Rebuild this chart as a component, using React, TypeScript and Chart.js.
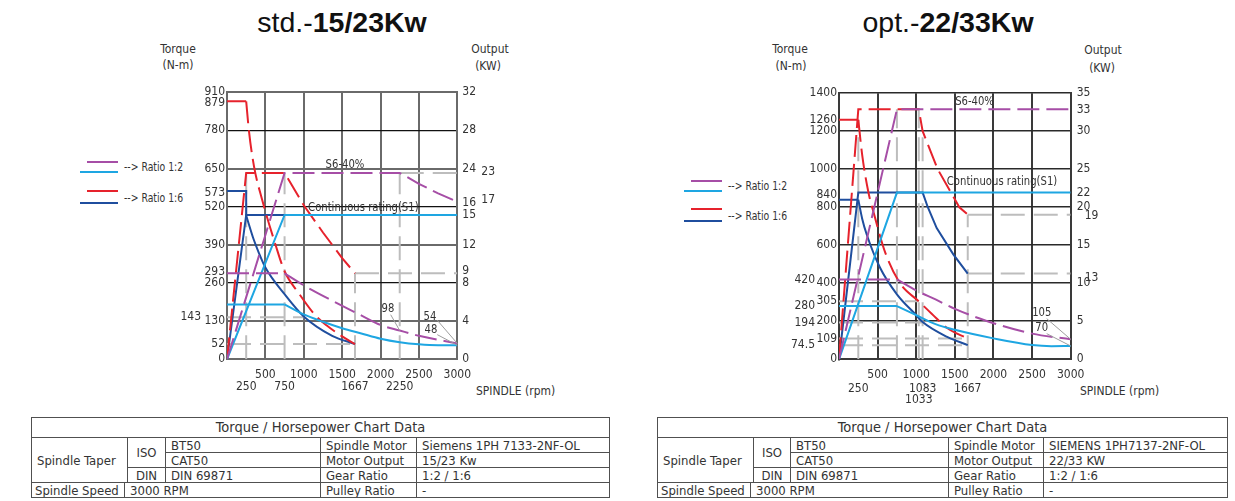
import React, { useEffect, useRef } from "react";
import { Chart, registerables } from "chart.js";

Chart.register(...registerables);

type Pt = [number, number];

const NARROW = "'Liberation Sans Narrow', 'DejaVu Sans Condensed', 'Liberation Sans', Arial, sans-serif";
const SANS = "'Liberation Sans', Arial, Helvetica, sans-serif";

const RED = "#e6222c";
const PURPLE = "#a64ea6";
const LIGHT_BLUE = "#1ea6e2";
const DARK_BLUE = "#1f4e9e";
const GUIDE = "#bdbdbd";
const TEXT = "#333333";

// ---------------- std.-15/23Kw ----------------
const STD_RPM_ROW1 = [500, 1000, 1500, 2000, 2500, 3000];
const STD_RPM_ROW2 = [250, 750, 1667, 2250];
const STD_TORQUE_TICKS = [910, 879, 780, 650, 573, 520, 390, 293, 260, 130, 52, 0];
// where each torque label sits (a few are nudged apart, as in the drawing)
const STD_TORQUE_LABEL_AT = [910, 872, 780, 650, 566, 520, 390, 297, 260, 130, 52, 0];
const STD_TORQUE_TICKS_OUTER = [143];
const STD_GRID_MAJOR = [910, 650, 390, 130];
const STD_GRID_MINOR = [780, 520, 260];
const STD_OUTPUT_AT = [910, 780, 650, 533, 492, 390, 301, 259, 130, 0];
const STD_OUTPUT_LABELS = ["32", "28", "24", "16", "15", "12", "9", "8", "4", "0"];
const STD_OUTPUT_OUTER_AT = [640, 542];
const STD_OUTPUT_OUTER_LABELS = ["23", "17"];

const STD_TORQUE_1_6_S6: Pt[] = [[0, 879], [250, 879], [285, 780], [350, 660], [456, 545], [630, 392], [750, 300], [935, 225], [1150, 150], [1300, 115], [1500, 78], [1667, 52]];
const STD_TORQUE_1_2_S6: Pt[] = [[0, 293], [750, 293], [1000, 252], [1370, 200], [1760, 148], [2000, 117], [2250, 98], [2500, 80], [3000, 54]];
const STD_TORQUE_1_6_S1: Pt[] = [[0, 573], [250, 573], [250, 490], [348, 408], [407, 368], [500, 313], [750, 222], [1000, 146], [1370, 80], [1667, 52]];
const STD_TORQUE_1_2_S1: Pt[] = [[0, 187], [750, 187], [1000, 153], [1250, 128], [1500, 106], [1750, 88], [2000, 70], [2250, 58], [2500, 51], [2750, 48], [3000, 48]];
const STD_POWER_1_6_S6: Pt[] = [[0, 0], [250, 635], [750, 635], [1000, 525], [1250, 432], [1500, 345], [1667, 293]];
const STD_POWER_1_2_S6: Pt[] = [[0, 0], [750, 635], [2250, 635], [2500, 598], [2750, 565], [3000, 537]];
const STD_POWER_1_6_S1: Pt[] = [[0, 0], [250, 492], [750, 492]];
const STD_POWER_1_2_S1: Pt[] = [[0, 0], [750, 492], [3000, 492]];
const STD_GUIDES: Pt[][] = [
  [[250, 0], [250, 635]], [[750, 0], [750, 635]], [[2250, 0], [2250, 635]], [[2250, 635], [3000, 635]],
  [[1667, 0], [1667, 293]], [[1667, 293], [3000, 293]], [[0, 143], [1000, 143]], [[0, 52], [1667, 52]],
];

// ---------------- opt.-22/33Kw ----------------
const OPT_RPM_ROW1 = [500, 1000, 1500, 2000, 2500, 3000];
const OPT_RPM_ROW2 = [250, 1083, 1667];
const OPT_RPM_ROW3 = [1033];
const OPT_TORQUE_TICKS = [1400, 1260, 1200, 1000, 840, 800, 600, 400, 305, 200, 109, 0];
const OPT_TORQUE_LABEL_AT = [1400, 1260, 1200, 1000, 863, 800, 600, 400, 305, 200, 109, 0];
const OPT_TORQUE_TICKS_OUTER = [420, 280, 194, 74.5];
const OPT_GRID_MAJOR = [1400, 1200, 1000, 800, 600, 400, 200];
const OPT_GRID_MINOR: number[] = [];
const OPT_OUTPUT_AT = [1400, 1311, 1200, 1000, 873, 800, 600, 400, 200, 0];
const OPT_OUTPUT_LABELS = ["35", "33", "30", "25", "22", "20", "15", "10", "5", "0"];
const OPT_OUTPUT_OUTER_AT = [756, 430];
const OPT_OUTPUT_OUTER_LABELS = ["19", "13"];

const OPT_TORQUE_1_6_S6: Pt[] = [[0, 1260], [250, 1260], [300, 1075], [380, 880], [450, 770], [600, 560], [790, 400], [1033, 305], [1200, 240], [1400, 165], [1667, 109]];
const OPT_TORQUE_1_2_S6: Pt[] = [[0, 420], [750, 420], [1000, 362], [1250, 315], [1500, 265], [1750, 225], [2000, 190], [2500, 135], [3000, 105]];
const OPT_TORQUE_1_6_S1: Pt[] = [[0, 840], [250, 840], [300, 740], [360, 655], [530, 483], [750, 342], [1000, 232], [1083, 196], [1400, 118], [1667, 74.5]];
const OPT_TORQUE_1_2_S1: Pt[] = [[0, 280], [750, 280], [1000, 232], [1250, 185], [1500, 155], [2000, 110], [2500, 75], [2750, 69], [3000, 70]];
const OPT_POWER_1_6_S6: Pt[] = [[0, 0], [250, 1315], [1033, 1315], [1083, 1200], [1278, 1000], [1558, 800], [1667, 761]];
const OPT_POWER_1_2_S6: Pt[] = [[0, 0], [750, 1315], [3000, 1315]];
const OPT_POWER_1_6_S1: Pt[] = [[0, 0], [250, 877], [1083, 877], [1150, 800], [1265, 690], [1480, 552], [1667, 451]];
const OPT_POWER_1_2_S1: Pt[] = [[0, 0], [750, 877], [3000, 877]];
const OPT_GUIDES: Pt[][] = [
  [[250, 0], [250, 1260]], [[750, 0], [750, 1315]], [[1033, 0], [1033, 1315]], [[1083, 0], [1083, 1200]],
  [[1667, 0], [1667, 761]], [[1667, 761], [3000, 761]], [[1667, 451], [3000, 451]],
  [[0, 305], [1033, 305]], [[0, 194], [1083, 194]], [[0, 109], [1667, 109]], [[0, 74.5], [1667, 74.5]],
];

// ---------------- table ----------------
const STD_TABLE = { motor: "Siemens 1PH 7133-2NF-OL", output: "15/23 Kw" };
const OPT_TABLE = { motor: "SIEMENS 1PH7137-2NF-OL", output: "22/33 KW" };

const S6_DASH = [22, 7];
const GUIDE_DASH = [24, 9];
const TICK_FONT = { family: NARROW, size: 12 };

function annotationPlugin(spec: any) {
  return {
    id: "annot",
    afterDatasetsDraw(chart: any) {
      const { ctx } = chart;
      const xs = chart.scales.x;
      const ys = chart.scales.y;
      ctx.save();
      ctx.strokeStyle = "#9d9d9d";
      ctx.lineWidth = 1;
      spec.leaders.forEach((l: any) => {
        ctx.beginPath();
        ctx.moveTo(xs.getPixelForValue(l.from[0]), ys.getPixelForValue(l.from[1]));
        ctx.lineTo(xs.getPixelForValue(l.to[0]), ys.getPixelForValue(l.to[1]));
        ctx.stroke();
      });
      ctx.fillStyle = TEXT;
      ctx.font = `13px ${NARROW}`;
      ctx.textAlign = "center";
      ctx.textBaseline = "middle";
      spec.texts.forEach((t: any) => {
        ctx.save();
        ctx.translate(xs.getPixelForValue(t.x), ys.getPixelForValue(t.y));
        ctx.scale(0.86, 1);
        ctx.fillText(t.t, 0, 0);
        ctx.restore();
      });
      ctx.restore();
    },
  };
}

const noClip = () => undefined;

function buildConfig(spec: any) {
  const lineDs = (pts: Pt[], color: string, dash: number[], smooth: boolean) => ({
    data: pts.map(([x, y]) => ({ x, y })),
    borderColor: color,
    borderWidth: 2,
    borderDash: dash,
    pointRadius: 0,
    fill: false,
    tension: 0,
    cubicInterpolationMode: smooth ? "monotone" : "default",
    xAxisID: "x",
    yAxisID: "y",
  });
  const datasets: any[] = [];
  spec.series.forEach((s: any) => {
    const dash = s.dashed ? S6_DASH : [];
    if (s.bend === undefined) {
      datasets.push(lineDs(s.pts, s.color, dash, false));
    } else {
      datasets.push(lineDs(s.pts.slice(s.bend), s.color, dash, true));
      datasets.push(lineDs(s.pts.slice(0, s.bend + 1), s.color, dash, false));
    }
  });
  spec.guides.forEach((g: Pt[]) => datasets.push(lineDs(g, GUIDE, GUIDE_DASH, false)));

  const setTicks = (vals: number[]) => (scale: any) => {
    scale.ticks = vals.map((v) => ({ value: v }));
  };
  const setW = (w: number) => (s: any) => {
    s.width = w;
    s._computeLabelArea = noClip;
  };
  const setH = (h: number) => (s: any) => {
    s.height = h;
    s._computeLabelArea = noClip;
  };
  const L = spec.layout;
  const xAxis = (vals: number[], weight: number, pad: number, h: number, main: boolean) => ({
    type: "linear",
    position: "bottom",
    min: 0,
    max: 3000,
    bounds: "data",
    weight,
    afterBuildTicks: setTicks(vals),
    afterFit: setH(h),
    ticks: { autoSkip: false, maxRotation: 0, padding: pad, font: TICK_FONT, color: TEXT, callback: (v: number) => String(v) },
    grid: main
      ? { display: true, drawTicks: false, color: spec.vColor, lineWidth: spec.vWidth }
      : { display: false, drawTicks: false },
    border: main ? { display: true, color: spec.borderColor, width: 2 } : { display: false },
  });
  const yAxis = (position: string, weight: number, at: number[], w: number, pad: number, labels: string[] | null, withBorder: boolean) => ({
    type: "linear",
    position,
    min: 0,
    max: spec.yMax,
    bounds: "data",
    weight,
    afterBuildTicks: setTicks(at),
    afterFit: setW(w),
    ticks: {
      autoSkip: false,
      padding: pad,
      font: TICK_FONT,
      color: TEXT,
      callback: (v: number, i: number) => (labels ? labels[i] : String(v)),
    },
    grid: { display: false, drawTicks: false },
    border: withBorder ? { display: true, color: spec.borderColor, width: 2 } : { display: false },
  });
  const mainY: any = yAxis("left", 0, spec.yLabelAt, L.yW, 2, spec.yTicks.map((v: number) => String(v)), true);
  mainY.grid = {
    display: true,
    drawTicks: false,
    color: (c: any) => {
      const v = c.tick && c.tick.value;
      if (spec.gridMajor.includes(v)) return spec.majorColor;
      if (spec.gridMinor.includes(v)) return spec.minorColor;
      return "rgba(0,0,0,0)";
    },
    lineWidth: (c: any) => {
      const v = c.tick && c.tick.value;
      if (spec.gridMajor.includes(v)) return spec.majorWidth;
      if (spec.gridMinor.includes(v)) return spec.minorWidth;
      return 0;
    },
  };
  const scales: any = {
    x: xAxis(spec.xRows[0], 0, L.xPads[0], L.xHeights[0], true),
    y: mainY,
    yo: yAxis("left", 1, spec.yOuter, L.yoW, 2, null, false),
    yr: yAxis("right", 0, spec.rightAt, L.yrW, L.yrPad, spec.rightLabels, true),
    yro: yAxis("right", 1, spec.rightOuterAt, L.yroW, L.yroPad, spec.rightOuterLabels, false),
  };
  for (let r = 1; r < spec.xRows.length; r++) {
    scales["x" + (r + 1)] = xAxis(spec.xRows[r], r, L.xPads[r], L.xHeights[r], false);
  }
  return {
    type: "line",
    data: { datasets },
    options: {
      responsive: false,
      maintainAspectRatio: false,
      animation: false,
      devicePixelRatio: 1,
      events: [],
      layout: { padding: { top: L.padTop, left: 0, right: 0, bottom: 0 } },
      plugins: { legend: { display: false }, tooltip: { enabled: false }, title: { display: false } },
      scales,
    },
    plugins: [annotationPlugin(spec)],
  };
}

const STD_SPEC = {
  yMax: 910,
  xRows: [STD_RPM_ROW1, STD_RPM_ROW2],
  yTicks: STD_TORQUE_TICKS,
  yLabelAt: STD_TORQUE_LABEL_AT,
  yOuter: STD_TORQUE_TICKS_OUTER,
  gridMajor: STD_GRID_MAJOR,
  gridMinor: STD_GRID_MINOR,
  majorColor: "#6a6a6a",
  majorWidth: 2,
  minorColor: "#111111",
  minorWidth: 1.2,
  vColor: "#6a6a6a",
  vWidth: 2,
  borderColor: "#6a6a6a",
  rightAt: STD_OUTPUT_AT,
  rightLabels: STD_OUTPUT_LABELS,
  rightOuterAt: STD_OUTPUT_OUTER_AT,
  rightOuterLabels: STD_OUTPUT_OUTER_LABELS,
  series: [
    { pts: STD_POWER_1_2_S6, color: PURPLE, dashed: true },
    { pts: STD_TORQUE_1_2_S6, color: PURPLE, dashed: true, bend: 1 },
    { pts: STD_POWER_1_2_S1, color: LIGHT_BLUE, dashed: false },
    { pts: STD_TORQUE_1_2_S1, color: LIGHT_BLUE, dashed: false, bend: 1 },
    { pts: STD_POWER_1_6_S6, color: RED, dashed: true },
    { pts: STD_TORQUE_1_6_S6, color: RED, dashed: true, bend: 1 },
    { pts: STD_POWER_1_6_S1, color: DARK_BLUE, dashed: false },
    { pts: STD_TORQUE_1_6_S1, color: DARK_BLUE, dashed: false, bend: 2 },
  ],
  guides: STD_GUIDES,
  texts: [
    { t: "S6-40%", x: 1537, y: 664 },
    { t: "Continuous rating(S1)", x: 1776, y: 518 },
    { t: "98", x: 2097, y: 173 },
    { t: "54", x: 2644, y: 147 },
    { t: "48", x: 2657, y: 101 },
  ],
  leaders: [
    { from: [2132, 152], to: [2250, 98] },
    { from: [2739, 133], to: [3000, 54] },
    { from: [2739, 84], to: [3000, 48] },
  ],
  layout: { padTop: 10, yW: 24, yoW: 63, yrW: 23, yrPad: 5, yroW: 59.7, yroPad: 1, xPads: [8, 6.5], xHeights: [14, 36.7] },
};

const OPT_SPEC = {
  yMax: 1400,
  xRows: [OPT_RPM_ROW1, OPT_RPM_ROW2, OPT_RPM_ROW3],
  yTicks: OPT_TORQUE_TICKS,
  yLabelAt: OPT_TORQUE_LABEL_AT,
  yOuter: OPT_TORQUE_TICKS_OUTER,
  gridMajor: OPT_GRID_MAJOR,
  gridMinor: OPT_GRID_MINOR,
  majorColor: "#2a2a2a",
  majorWidth: 1.6,
  minorColor: "#2a2a2a",
  minorWidth: 1.6,
  vColor: "#3a3a3a",
  vWidth: 2,
  borderColor: "#3a3a3a",
  rightAt: OPT_OUTPUT_AT,
  rightLabels: OPT_OUTPUT_LABELS,
  rightOuterAt: OPT_OUTPUT_OUTER_AT,
  rightOuterLabels: OPT_OUTPUT_OUTER_LABELS,
  series: [
    { pts: OPT_POWER_1_2_S6, color: PURPLE, dashed: true },
    { pts: OPT_TORQUE_1_2_S6, color: PURPLE, dashed: true, bend: 1 },
    { pts: OPT_POWER_1_2_S1, color: LIGHT_BLUE, dashed: false },
    { pts: OPT_TORQUE_1_2_S1, color: LIGHT_BLUE, dashed: false, bend: 1 },
    { pts: OPT_POWER_1_6_S6, color: RED, dashed: true },
    { pts: OPT_TORQUE_1_6_S6, color: RED, dashed: true, bend: 1 },
    { pts: OPT_POWER_1_6_S1, color: DARK_BLUE, dashed: false },
    { pts: OPT_TORQUE_1_6_S1, color: DARK_BLUE, dashed: false, bend: 1 },
  ],
  guides: OPT_GUIDES,
  texts: [
    { t: "S6-40%", x: 1755, y: 1357 },
    { t: "Continuous rating(S1)", x: 2111, y: 935 },
    { t: "105", x: 2625, y: 248 },
    { t: "70", x: 2625, y: 167 },
  ],
  leaders: [
    { from: [2689, 214], to: [3000, 105] },
    { from: [2689, 135], to: [3000, 70] },
  ],
  layout: { padTop: 10.7, yW: 22, yoW: 67, yrW: 14, yrPad: 6, yroW: 75.3, yroPad: 0, xPads: [8.5, 8.5, 8.5], xHeights: [14, 11, 25.7] },
};

function ChartBox({ spec, left, top, width, height }: any) {
  const ref = useRef<HTMLCanvasElement>(null);
  useEffect(() => {
    const chart = new Chart(ref.current as HTMLCanvasElement, buildConfig(spec) as any);
    return () => chart.destroy();
  }, [spec]);
  return (
    <canvas
      ref={ref}
      width={width}
      height={height}
      style={{ position: "absolute", left, top, width, height, display: "block" }}
    />
  );
}

const centered = (x: number, y: number, size: number, sx: number, extra: any = {}) => ({
  position: "absolute" as const,
  left: x,
  top: y,
  transform: `translate(-50%, -50%) scaleX(${sx})`,
  whiteSpace: "nowrap" as const,
  lineHeight: 1,
  font: `${size}px ${NARROW}`,
  color: TEXT,
  ...extra,
});

const leftMid = (x: number, y: number, size: number, sx: number) => ({
  position: "absolute" as const,
  left: x,
  top: y,
  transform: `translateY(-50%) scaleX(${sx})`,
  transformOrigin: "left center",
  whiteSpace: "nowrap" as const,
  lineHeight: 1,
  font: `${size}px ${NARROW}`,
  color: TEXT,
});

const bar = (x: number, y: number, w: number, color: string) => ({
  position: "absolute" as const,
  left: x,
  top: y - 1,
  width: w,
  height: 2,
  background: color,
});

function Legend({ x, y1, y2 }: any) {
  return (
    <>
      <div style={bar(x + 7, y1 - 5, 31, PURPLE)} />
      <div style={bar(x, y1 + 5, 38, LIGHT_BLUE)} />
      <div style={leftMid(x + 44, y1, 12, 0.86)}>{"--> Ratio 1:2"}</div>
      <div style={bar(x + 7, y2 - 7, 31, RED)} />
      <div style={bar(x, y2 + 5, 38, DARK_BLUE)} />
      <div style={leftMid(x + 44, y2, 12, 0.86)}>{"--> Ratio 1:6"}</div>
    </>
  );
}

const cell: any = {
  border: "1px solid #505050",
  padding: "0 0 0 5px",
  fontFamily: NARROW,
  fontSize: 13,
  color: TEXT,
  whiteSpace: "nowrap",
  overflow: "hidden",
  lineHeight: "13px",
  textAlign: "left",
  verticalAlign: "middle",
};

function DataTable({ left, top, cols, info }: any) {
  const total = cols.reduce((a: number, b: number) => a + b, 0);
  return (
    <table
      style={{
        position: "absolute",
        left,
        top,
        width: total,
        borderCollapse: "collapse",
        tableLayout: "fixed",
        border: "1px solid #505050",
      }}
    >
      <colgroup>
        {cols.map((w: number, i: number) => (
          <col key={i} style={{ width: w }} />
        ))}
      </colgroup>
      <tbody>
        <tr style={{ height: 20 }}>
          <td colSpan={6} style={{ ...cell, textAlign: "center", fontSize: 14.5, padding: 0 }}>
            Torque / Horsepower Chart Data
          </td>
        </tr>
        <tr style={{ height: 15 }}>
          <td colSpan={2} rowSpan={3} style={cell}>Spindle Taper</td>
          <td rowSpan={2} style={{ ...cell, textAlign: "center", padding: 0 }}>ISO</td>
          <td style={cell}>BT50</td>
          <td style={cell}>Spindle Motor</td>
          <td style={cell}>{info.motor}</td>
        </tr>
        <tr style={{ height: 15 }}>
          <td style={cell}>CAT50</td>
          <td style={cell}>Motor Output</td>
          <td style={cell}>{info.output}</td>
        </tr>
        <tr style={{ height: 15 }}>
          <td style={{ ...cell, textAlign: "center", padding: 0 }}>DIN</td>
          <td style={cell}>DIN 69871</td>
          <td style={cell}>Gear Ratio</td>
          <td style={cell}>1:2 / 1:6</td>
        </tr>
        <tr style={{ height: 15 }}>
          <td style={{ ...cell, paddingLeft: 3 }}>Spindle Speed</td>
          <td colSpan={3} style={cell}>3000 RPM</td>
          <td style={cell}>Pulley Ratio</td>
          <td style={cell}>-</td>
        </tr>
      </tbody>
    </table>
  );
}

function Title({ x, y, light, bold }: any) {
  return (
    <div style={centered(x, y, 28.5, 1, { font: `28.5px ${SANS}`, color: "#111" })}>
      {light}
      <b>{bold}</b>
    </div>
  );
}

export default function App() {
  return (
    <div style={{ position: "absolute", left: 0, top: 0, width: 1235, height: 501, overflow: "hidden", background: "#fff" }}>
      <Title x={342} y={22} light="std.-" bold="15/23Kw" />
      <Title x={948} y={22} light="opt.-" bold="22/33Kw" />

      <div style={centered(178, 48, 13, 0.92)}>Torque</div>
      <div style={centered(178, 64, 13, 0.92)}>(N-m)</div>
      <div style={centered(490, 48, 13, 0.92)}>Output</div>
      <div style={centered(488, 65, 13, 0.92)}>(KW)</div>
      <div style={leftMid(476, 390, 13, 0.92)}>SPINDLE (rpm)</div>

      <div style={centered(790, 48, 13, 0.92)}>Torque</div>
      <div style={centered(791, 65, 13, 0.92)}>(N-m)</div>
      <div style={centered(1103, 49, 13, 0.92)}>Output</div>
      <div style={centered(1102, 67, 13, 0.92)}>(KW)</div>
      <div style={leftMid(1080, 390, 13, 0.92)}>SPINDLE (rpm)</div>

      <Legend x={80} y1={167} y2={198} />
      <Legend x={684} y1={186} y2={216} />

      <ChartBox spec={STD_SPEC} left={140} top={80} width={400} height={330} />
      <ChartBox spec={OPT_SPEC} left={750} top={80} width={410} height={330} />

      <DataTable left={31} top={417} cols={[93, 3, 38, 155, 96, 193]} info={STD_TABLE} />
      <DataTable left={657} top={417} cols={[93, 3, 37, 158, 95, 184]} info={OPT_TABLE} />
    </div>
  );
}
